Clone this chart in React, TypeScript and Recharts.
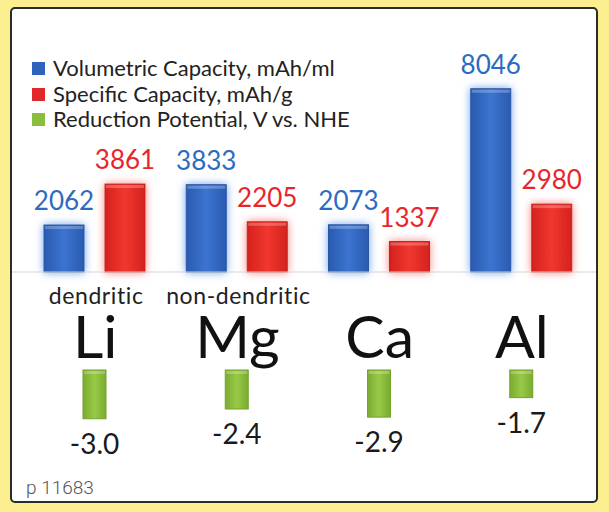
import React from 'react';
import { BarChart, Bar, XAxis, YAxis, Legend, LabelList } from 'recharts';

const categories = ['Li', 'Mg', 'Ca', 'Al'];
const morphology = ['dendritic', 'non-dendritic', '', ''];
const volumetricCapacity = [2062, 3833, 2073, 8046];
const specificCapacity = [3861, 2205, 1337, 2980];
const reductionPotential = [-3.0, -2.4, -2.9, -1.7];

const legendItems = [
  { name: 'Volumetric Capacity, mAh/ml', color: '#2d63bd' },
  { name: 'Specific Capacity, mAh/g', color: '#e0282a' },
  { name: 'Reduction Potential, V vs. NHE', color: '#8abf3d' },
];

const FONT = 'Lato, "Open Sans", sans-serif';

const data = categories.map((name, i) => ({
  name,
  volumetric: volumetricCapacity[i],
  specific: specificCapacity[i],
  potential: reductionPotential[i],
}));

const rectOf = (p: any) => {
  const v = p.viewBox && p.viewBox.width !== undefined ? p.viewBox : p;
  const x = Number(p.x ?? v.x);
  const y = Number(p.y ?? v.y);
  const w = Number(p.width ?? v.width);
  const h = Number(p.height ?? v.height);
  return { x, y, w, h, top: Math.min(y, y + h), bottom: Math.max(y, y + h) };
};

const GlowBar = (props: any) => {
  const { x, w, top, bottom } = rectOf(props);
  if (!isFinite(x) || !w) return null;
  return (
    <g filter={props.glow ? `url(#${props.glow})` : undefined}>
      <rect x={x} y={top} width={w} height={bottom - top} fill={`url(#${props.grad})`} stroke={props.edge} strokeWidth={1} />
      <rect x={x + 1} y={top + 1} width={w - 2} height={3} fill="#ffffff" opacity={0.25} />
    </g>
  );
};

const topLabel = (color: string) => (p: any) => {
  const { x, w, top } = rectOf(p);
  return (
    <text x={x + w / 2} y={top - 15} textAnchor="middle" fill={color} fontSize={26} fontFamily={FONT}>
      {p.value}
    </text>
  );
};

const bottomLabel = (p: any) => {
  const { x, w, bottom } = rectOf(p);
  return (
    <text x={x + w / 2} y={bottom + 35} textAnchor="middle" fill="#1a1a1a" fontSize={28} fontFamily={FONT}>
      {Number(p.value).toFixed(1)}
    </text>
  );
};

const ElementTick = ({ x, y, payload }: any) => {
  const note = morphology[categories.indexOf(payload.value)];
  return (
    <g fontFamily={FONT}>
      {note ? (
        <text x={x + 2} y={y + 32} textAnchor="middle" fontSize={23} letterSpacing={0.6} fill="#222">
          {note}
        </text>
      ) : null}
      <text x={x + 1} y={y + 86} textAnchor="middle" fontSize={59} fill="#111">
        {payload.value}
      </text>
    </g>
  );
};

const LegendBlock = () => (
  <div style={{ fontFamily: FONT, fontSize: 22, color: '#222' }}>
    {legendItems.map((item) => (
      <div key={item.name} style={{ display: 'flex', alignItems: 'center', height: 25.5, whiteSpace: 'nowrap' }}>
        <span
          style={{
            display: 'inline-block',
            width: 13,
            height: 13,
            marginTop: 2,
            marginRight: 8,
            background: item.color,
          }}
        />
        {item.name}
      </div>
    ))}
  </div>
);

const Defs = () => (
  <defs>
    <linearGradient id="gBlue" x1="0" y1="0" x2="1" y2="0">
      <stop offset="0%" stopColor="#2a5bb0" />
      <stop offset="50%" stopColor="#3c74d0" />
      <stop offset="100%" stopColor="#2a5bb0" />
    </linearGradient>
    <linearGradient id="gRed" x1="0" y1="0" x2="1" y2="0">
      <stop offset="0%" stopColor="#d4221e" />
      <stop offset="50%" stopColor="#f0372e" />
      <stop offset="100%" stopColor="#d4221e" />
    </linearGradient>
    <linearGradient id="gGreen" x1="0" y1="0" x2="1" y2="0">
      <stop offset="0%" stopColor="#7aab30" />
      <stop offset="50%" stopColor="#98c946" />
      <stop offset="100%" stopColor="#7aab30" />
    </linearGradient>
    <filter id="fBlue" x="-50%" y="-50%" width="200%" height="200%">
      <feDropShadow dx="0" dy="0" stdDeviation="4" floodColor="#6f9fea" floodOpacity="1" />
    </filter>
    <filter id="fRed" x="-50%" y="-50%" width="200%" height="200%">
      <feDropShadow dx="0" dy="0" stdDeviation="4" floodColor="#f4827e" floodOpacity="1" />
    </filter>
  </defs>
);

export default function App() {
  return (
    <div style={{ position: 'absolute', left: 0, top: 0, width: 609, height: 512, background: '#fbef8f', overflow: 'hidden' }}>
      <div
        style={{
          position: 'absolute',
          left: 10,
          top: 7,
          width: 588,
          height: 496,
          boxSizing: 'border-box',
          border: '2px solid #2b2b2b',
          borderRadius: 5,
          background: '#ffffff',
        }}
      />
      <div style={{ position: 'absolute', left: 0, top: 0 }}>
        <BarChart width={609} height={512} data={data} margin={{ top: 67, right: 13, bottom: 0, left: 12 }} barGap={21}>
          <Defs />
          <XAxis
            dataKey="name"
            height={240}
            interval={0}
            tickSize={0}
            tickMargin={0}
            tickLine={false}
            axisLine={{ stroke: '#d5d5d5' }}
            padding={{ left: 11, right: 4 }}
            tick={<ElementTick />}
          />
          <YAxis hide domain={[0, 9000]} />
          <Legend
            layout="vertical"
            align="center"
            verticalAlign="middle"
            wrapperStyle={{ left: 32, top: 55, width: 340 }}
            content={() => <LegendBlock />}
          />
          <Bar
            dataKey="volumetric"
            name={legendItems[0].name}
            barSize={40}
            isAnimationActive={false}
            shape={(p: any) => <GlowBar {...p} grad="gBlue" glow="fBlue" edge="#2756a6" />}
          >
            <LabelList dataKey="volumetric" content={topLabel('#2b6cc0')} />
          </Bar>
          <Bar
            dataKey="specific"
            name={legendItems[1].name}
            barSize={40}
            isAnimationActive={false}
            shape={(p: any) => <GlowBar {...p} grad="gRed" glow="fRed" edge="#c91f1b" />}
          >
            <LabelList dataKey="specific" content={topLabel('#e8262a')} />
          </Bar>
        </BarChart>
      </div>
      <div style={{ position: 'absolute', left: 0, top: 0 }}>
        <BarChart width={609} height={512} data={data} margin={{ top: 370, right: 13, bottom: 77, left: 12 }}>
          <Defs />
          <XAxis dataKey="name" hide padding={{ left: 11, right: 4 }} />
          <YAxis hide domain={[-4, 0]} />
          <Bar
            dataKey="potential"
            name={legendItems[2].name}
            barSize={23}
            isAnimationActive={false}
            shape={(p: any) => <GlowBar {...p} grad="gGreen" edge="#74a22c" />}
          >
            <LabelList dataKey="potential" content={bottomLabel} />
          </Bar>
        </BarChart>
      </div>
      <div
        style={{
          position: 'absolute',
          left: 26,
          top: 476,
          fontFamily: 'Roboto, sans-serif',
          fontWeight: 300,
          fontSize: 19,
          color: '#555',
        }}
      >
        p 11683
      </div>
    </div>
  );
}
